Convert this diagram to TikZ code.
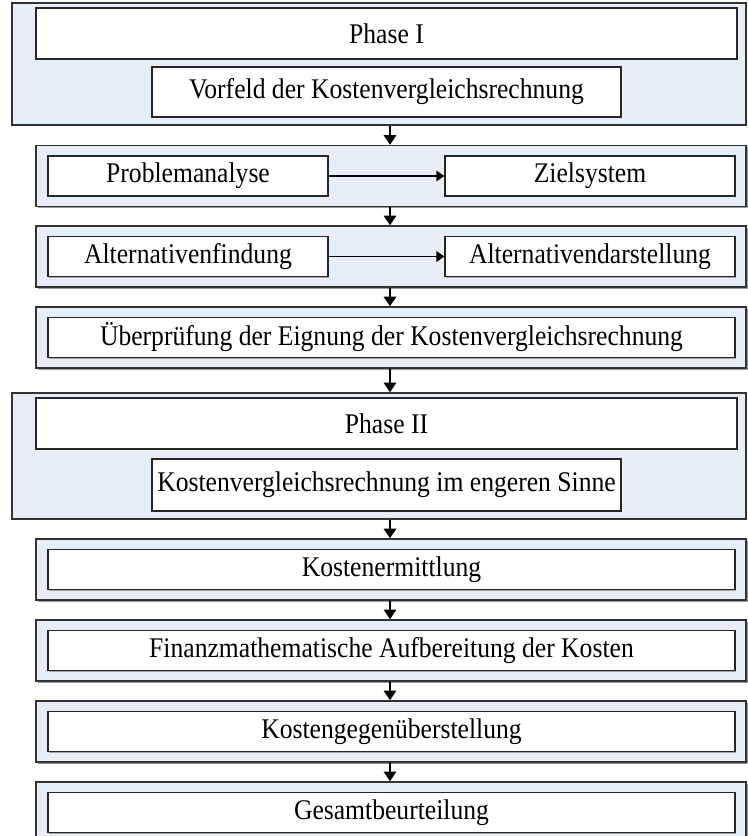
\documentclass[tikz,border=0pt]{standalone}
\usepackage{fontspec}
\setmainfont{Liberation Serif}[FakeStretch=0.9]
\usepackage{xcolor}
\usepackage{tikz}
\usetikzlibrary{positioning, calc, arrows.meta, shadows}
\definecolor{paneblue}{HTML}{E8EEF8}

\begin{document}
\begin{tikzpicture}[
    pane/.style={draw=black!80, line width=0.8pt, fill=paneblue, minimum width=14.2cm,
                 minimum height=1.22cm, inner sep=0pt,
                 drop shadow={shadow xshift=0.9pt, shadow yshift=-0.9pt, opacity=1, fill=black!40}},
    frame/.style={draw=black!80, line width=0.8pt, fill=paneblue, minimum width=14.68cm,
                  inner sep=0pt},
    box/.style={draw=black!85, line width=0.7pt, fill=white, minimum height=0.8cm,
                inner sep=0pt, align=center, font=\fontsize{16.2}{19}\selectfont,
                drop shadow={shadow xshift=0.7pt, shadow yshift=-0.7pt, opacity=1, fill=black!35}},
    arrow/.style={-{Triangle[width=7pt, length=5.5pt]}, line width=1.3pt},
    harrow/.style={-{Triangle[width=6pt, length=4.5pt]}, line width=0.7pt},
]
\useasboundingbox (0, 0) rectangle (14.94, -16.72);

% Phase I
\node[frame, minimum height=2.44cm] (p1) at (7.58, -1.28) {};
\node[box, minimum width=14.02cm, minimum height=1.02cm] (p1head) at (7.73, -0.67) {Phase I};
\node[box, minimum width=9.38cm, minimum height=1.0cm] (vorfeld) at (7.73, -1.84)
    {Vorfeld der Kostenvergleichsrechnung};

\node[pane] (g2) at (7.82, -3.52) {};
\node[box, minimum width=5.6cm] (prob) at (3.76, -3.52) {Problemanalyse};
\node[box, minimum width=5.8cm] (ziel) at (11.8, -3.52) {Zielsystem};

\node[pane] (g3) at (7.82, -5.13) {};
\node[box, minimum width=5.6cm] (altfind) at (3.76, -5.13) {Alternativenfindung};
\node[box, minimum width=5.8cm] (altdar) at (11.8, -5.13) {Alternativendarstellung};

\node[pane] (g4) at (7.82, -6.75) {};
\node[box, minimum width=13.74cm] (pruef) at (7.83, -6.75)
    {Überprüfung der Eignung der Kostenvergleichsrechnung};

% Phase II
\node[frame, minimum height=2.52cm] (p2) at (7.58, -9.12) {};
\node[box, minimum width=14.02cm, minimum height=1.02cm] (p2head) at (7.73, -8.47) {Phase II};
\node[box, minimum width=9.38cm, minimum height=1.04cm] (kvr) at (7.73, -9.7)
    {Kostenvergleichsrechnung im engeren Sinne};

\node[pane] (g6) at (7.82, -11.39) {};
\node[box, minimum width=13.74cm] (ermitt) at (7.83, -11.39) {Kostenermittlung};

\node[pane] (g7) at (7.82, -13.01) {};
\node[box, minimum width=13.74cm] (finanz) at (7.83, -13.01)
    {Finanzmathematische Aufbereitung der Kosten};

\node[pane] (g8) at (7.82, -14.63) {};
\node[box, minimum width=13.74cm] (gegen) at (7.83, -14.63) {Kostengegenüberstellung};

\node[pane] (g9) at (7.82, -16.25) {};
\node[box, minimum width=13.74cm] (gesamt) at (7.83, -16.25) {Gesamtbeurteilung};

\draw[harrow] (prob) -- (ziel);
\draw[harrow] (altfind) -- (altdar);

% down arrows between the stages
\coordinate (mid) at (7.8, 0);
\draw[arrow] (p1.south -| mid) -- (g2.north -| mid);
\draw[arrow] (g2.south -| mid) -- (g3.north -| mid);
\draw[arrow] (g3.south -| mid) -- (g4.north -| mid);
\draw[arrow] (g4.south -| mid) -- (p2.north -| mid);
\draw[arrow] (p2.south -| mid) -- (g6.north -| mid);
\draw[arrow] (g6.south -| mid) -- (g7.north -| mid);
\draw[arrow] (g7.south -| mid) -- (g8.north -| mid);
\draw[arrow] (g8.south -| mid) -- (g9.north -| mid);
\end{tikzpicture}
\end{document}
